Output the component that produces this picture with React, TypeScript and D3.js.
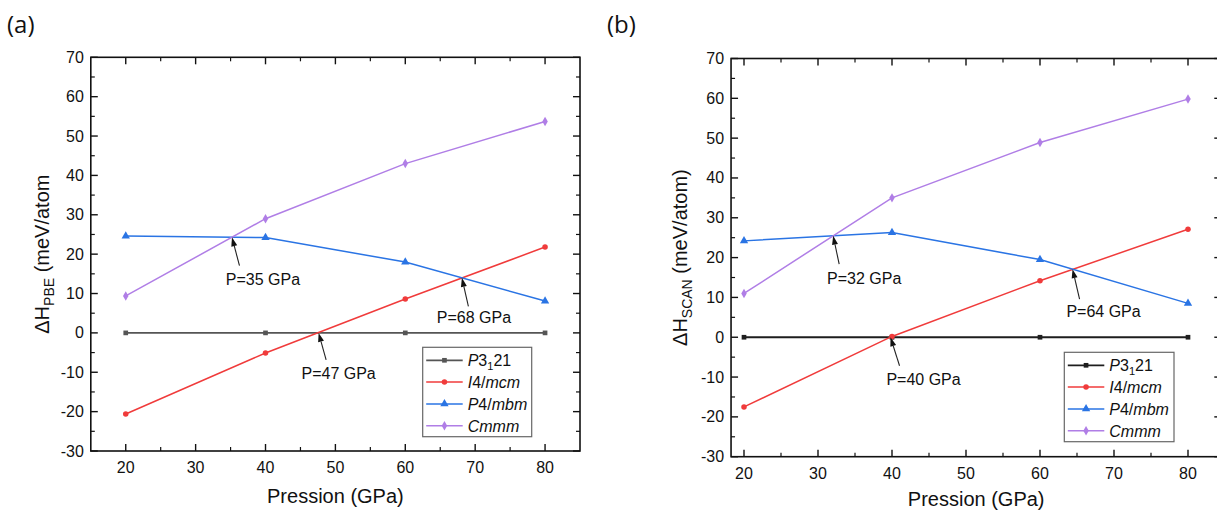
import React from 'react';
import * as d3 from 'd3';

// ---------- data ----------
const pressures = [20, 40, 60, 80];
const phaseNames = ['P3121', 'I4/mcm', 'P4/mbm', 'Cmmm'];

const pbeP3121 = [0, 0, 0, 0];
const pbeI4mcm = [-20.6, -5.1, 8.6, 21.8];
const pbeP4mbm = [24.6, 24.2, 18.0, 8.1];
const pbeCmmm = [9.4, 29.0, 43.0, 53.7];

const scanP3121 = [0, 0, 0, 0];
const scanI4mcm = [-17.5, 0.2, 14.2, 27.1];
const scanP4mbm = [24.2, 26.3, 19.5, 8.5];
const scanCmmm = [11.0, 35.0, 48.9, 59.8];

const xTicks = [20, 30, 40, 50, 60, 70, 80];
const xMinorTicks = [25, 35, 45, 55, 65, 75];
const yTicks = [-30, -20, -10, 0, 10, 20, 30, 40, 50, 60, 70];
const yMinorTicks = [-25, -15, -5, 5, 15, 25, 35, 45, 55, 65];

const pbeTransitionP = [35.2, 68.1, 47.6];
const pbeTransitionE = [24.3, 14.0, 0];
const pbeTransitionLabels = ['P=35 GPa', 'P=68 GPa', 'P=47 GPa'];

const scanTransitionP = [32.05, 64.4, 39.8];
const scanTransitionE = [25.5, 17.1, 0];
const scanTransitionLabels = ['P=32 GPa', 'P=64 GPa', 'P=40 GPa'];

// ---------- styles ----------
const FONT = '"Liberation Sans", Arial, Helvetica, sans-serif';
const RED = '#f03b3b';
const BLUE = '#2a74e4';
const PURPLE = '#b07ee6';

type Panel = {
  tag: string;
  xDomain: [number, number];
  xRange: [number, number];
  yRange: [number, number];
  sub: string;
  closeParen: boolean;
  series: number[][];
  colors: string[];
  trP: number[];
  trE: number[];
  trLabels: string[];
  trOffsets: number[][];
  legend: { x: number; y: number; w: number; h: number };
  tagPos: [number, number];
  yLabelX: number;
  xLabelY: number;
};

const panels: Panel[] = [
  {
    tag: '(a)',
    xDomain: [15, 85],
    xRange: [90.8, 580],
    yRange: [451, 57.3],
    sub: 'PBE',
    closeParen: false,
    series: [pbeP3121, pbeI4mcm, pbeP4mbm, pbeCmmm],
    colors: ['#555555', RED, BLUE, PURPLE],
    trP: pbeTransitionP,
    trE: pbeTransitionE,
    trLabels: pbeTransitionLabels,
    trOffsets: [
      [7.5, 28.5, 31, 48],
      [6.5, 28.5, 12, 45],
      [7.5, 27, 20, 46],
    ],
    legend: { x: 422.7, y: 347.3, w: 109, h: 89.4 },
    tagPos: [7, 33],
    yLabelX: 49,
    xLabelY: 503,
  },
  {
    tag: '(b)',
    xDomain: [18.25, 84.5],
    xRange: [731.05, 1221.3],
    yRange: [456.7, 58.5],
    sub: 'SCAN',
    closeParen: true,
    series: [scanP3121, scanI4mcm, scanP4mbm, scanCmmm],
    colors: ['#1e1e1e', RED, BLUE, PURPLE],
    trP: scanTransitionP,
    trE: scanTransitionE,
    trLabels: scanTransitionLabels,
    trOffsets: [
      [6, 28.5, 31, 48],
      [7, 30, 31, 48],
      [9, 28.5, 33, 48],
    ],
    legend: { x: 1064.3, y: 352.3, w: 109.7, h: 89.4 },
    tagPos: [607, 33],
    yLabelX: 687,
    xLabelY: 506,
  },
];

const symbolTypes = [d3.symbolSquare, d3.symbolCircle, d3.symbolTriangle, d3.symbolDiamond];
const symbolSizes = [22, 24, 30, 26];

function LegendLabel({ i }: { i: number }) {
  if (i === 0)
    return (
      <>
        <tspan fontStyle="italic">P</tspan>3
        <tspan fontSize={11} dy={4}>1</tspan>
        <tspan dy={-4}>21</tspan>
      </>
    );
  if (i === 1)
    return (
      <>
        <tspan fontStyle="italic">I</tspan>4/<tspan fontStyle="italic">mcm</tspan>
      </>
    );
  if (i === 2)
    return (
      <>
        <tspan fontStyle="italic">P</tspan>4/<tspan fontStyle="italic">mbm</tspan>
      </>
    );
  return <tspan fontStyle="italic">{phaseNames[3]}</tspan>;
}

function PanelView({ p }: { p: Panel }) {
  const x = d3.scaleLinear().domain(p.xDomain).range(p.xRange);
  const y = d3.scaleLinear().domain([-30, 70]).range(p.yRange);
  const [x0, x1] = p.xRange;
  const [yb, yt] = p.yRange;
  const line = d3
    .line<number>()
    .x((_, i) => x(pressures[i]))
    .y((v) => y(v));
  const MAJ = 7;
  const MIN = 4;
  const yMid = (yb + yt) / 2;
  const xMid = (x0 + x1) / 2;

  return (
    <g>
      <text x={p.tagPos[0]} y={p.tagPos[1]} fontFamily='"Open Sans", "Noto Sans", sans-serif' fontSize={24} fill="#111">
        {p.tag}
      </text>

      {p.series.map((vals, si) => (
        <g key={si}>
          <path d={line(vals) || ''} fill="none" stroke={p.colors[si]} strokeWidth={si === 0 ? 1.8 : 1.5} />
          {vals.map((v, i) => (
            <path
              key={i}
              d={d3.symbol().type(symbolTypes[si]).size(symbolSizes[si])() || ''}
              transform={`translate(${x(pressures[i])},${y(v)})`}
              fill={p.colors[si]}
            />
          ))}
        </g>
      ))}

      <rect x={x0} y={yt} width={x1 - x0} height={yb - yt} fill="none" stroke="#111" strokeWidth={1.6} />

      {xTicks.map((t) => (
        <g key={'xt' + t}>
          <line x1={x(t)} x2={x(t)} y1={yb} y2={yb - MAJ} stroke="#111" strokeWidth={1.4} />
          <line x1={x(t)} x2={x(t)} y1={yt} y2={yt + MAJ} stroke="#111" strokeWidth={1.4} />
          <text x={x(t)} y={yb + 22} textAnchor="middle" fontFamily={FONT} fontSize={16} fill="#111">
            {t}
          </text>
        </g>
      ))}
      {xMinorTicks.map((t) => (
        <g key={'xm' + t}>
          <line x1={x(t)} x2={x(t)} y1={yb} y2={yb - MIN} stroke="#111" strokeWidth={1.2} />
          <line x1={x(t)} x2={x(t)} y1={yt} y2={yt + MIN} stroke="#111" strokeWidth={1.2} />
        </g>
      ))}

      {yTicks.map((t) => (
        <g key={'yt' + t}>
          <line x1={x0} x2={x0 + MAJ} y1={y(t)} y2={y(t)} stroke="#111" strokeWidth={1.4} />
          <line x1={x1} x2={x1 - MAJ} y1={y(t)} y2={y(t)} stroke="#111" strokeWidth={1.4} />
          <text x={x0 - 7} y={y(t) + 5.5} textAnchor="end" fontFamily={FONT} fontSize={16} fill="#111">
            {t}
          </text>
        </g>
      ))}
      {yMinorTicks.map((t) => (
        <g key={'ym' + t}>
          <line x1={x0} x2={x0 + MIN} y1={y(t)} y2={y(t)} stroke="#111" strokeWidth={1.2} />
          <line x1={x1} x2={x1 - MIN} y1={y(t)} y2={y(t)} stroke="#111" strokeWidth={1.2} />
        </g>
      ))}

      <text x={xMid} y={p.xLabelY} textAnchor="middle" fontFamily={FONT} fontSize={20} fill="#111">
        Pression (GPa)
      </text>
      <text
        transform={`translate(${p.yLabelX},${yMid}) rotate(-90)`}
        textAnchor="middle"
        fontFamily={FONT}
        fontSize={20}
        fill="#111"
      >
        ΔH
        <tspan fontSize={14} dy={5}>
          {p.sub}
        </tspan>
        <tspan dy={-5}>{p.closeParen ? ' (meV/atom)' : ' (meV/atom'}</tspan>
      </text>

      {p.trP.map((tp, i) => {
        const hx = x(tp);
        const hy = y(p.trE[i]);
        const [tdx, tdy, lx, ly] = p.trOffsets[i];
        const tx = hx + tdx;
        const ty = hy + tdy;
        const ang = Math.atan2(hy - ty, hx - tx);
        const L = 9;
        const Wd = 3;
        const bx = hx - L * Math.cos(ang);
        const by = hy - L * Math.sin(ang);
        const px = -Math.sin(ang) * Wd;
        const py = Math.cos(ang) * Wd;
        return (
          <g key={'tr' + i}>
            <line x1={tx} y1={ty} x2={bx} y2={by} stroke="#222" strokeWidth={1.1} />
            <path d={`M${hx},${hy}L${bx + px},${by + py}L${bx - px},${by - py}Z`} fill="#111" />
            <text x={hx + lx} y={hy + ly} textAnchor="middle" fontFamily={FONT} fontSize={16} fill="#111">
              {p.trLabels[i]}
            </text>
          </g>
        );
      })}

      <rect
        x={p.legend.x}
        y={p.legend.y}
        width={p.legend.w}
        height={p.legend.h}
        fill="white"
        stroke="#666"
        strokeWidth={1.2}
      />
      {phaseNames.map((_, i) => {
        const ry = p.legend.y + 13 + i * 21.8;
        const lx0 = p.legend.x + 3.5;
        const lx1 = p.legend.x + 40;
        return (
          <g key={'lg' + i}>
            <line x1={lx0} x2={lx1} y1={ry} y2={ry} stroke={p.colors[i]} strokeWidth={i === 0 ? 1.8 : 1.5} />
            <path
              d={d3.symbol().type(symbolTypes[i]).size(symbolSizes[i])() || ''}
              transform={`translate(${(lx0 + lx1) / 2},${ry})`}
              fill={p.colors[i]}
            />
            <text x={lx1 + 5} y={ry + 6} fontFamily={FONT} fontSize={16} fill="#111">
              <LegendLabel i={i} />
            </text>
          </g>
        );
      })}
    </g>
  );
}

export default function App() {
  return (
    <svg
      width={1217}
      height={512}
      viewBox="0 0 1217 512"
      style={{ position: 'absolute', left: 0, top: 0, background: 'white' }}
    >
      <rect x={0} y={0} width={1217} height={512} fill="white" />
      {panels.map((p) => (
        <PanelView key={p.tag} p={p} />
      ))}
    </svg>
  );
}
